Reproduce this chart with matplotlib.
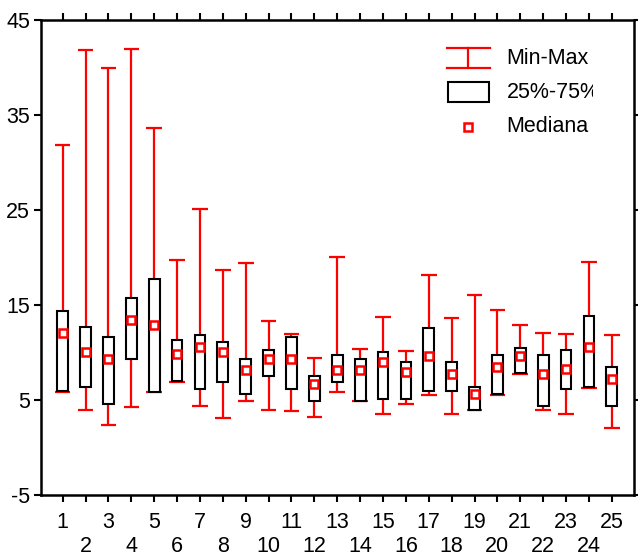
import matplotlib
matplotlib.use("Agg")
import matplotlib.pyplot as plt
from matplotlib.transforms import Bbox, TransformedBbox

plt.rcParams['font.family'] = ['Liberation Sans', 'DejaVu Sans']
plt.rcParams['axes.unicode_minus'] = False

# values
groups = list(range(1, 26))
mins = [5.8, 3.9, 2.4, 4.3, 5.8, 6.9, 4.4, 3.1, 4.9, 4.0,
        3.8, 3.2, 5.8, 4.9, 3.5, 4.6, 5.5, 3.5, 3.9, 5.5,
        7.7, 3.9, 3.5, 6.3, 2.1]
maxs = [31.8, 41.8, 39.9, 42.0, 33.6, 19.7, 25.1, 18.7, 19.4, 13.3,
        12.0, 9.4, 20.1, 10.4, 13.7, 10.2, 18.2, 13.6, 16.1, 14.5,
        12.9, 12.1, 12.0, 19.5, 11.8]
q1 = [5.9, 6.4, 4.6, 9.3, 5.8, 7.0, 6.2, 6.9, 5.6, 7.5,
      6.2, 4.9, 6.9, 4.9, 5.1, 5.1, 6.0, 6.0, 3.9, 5.6,
      7.8, 4.4, 6.2, 6.4, 4.4]
q3 = [14.4, 12.7, 11.6, 15.7, 17.7, 11.3, 11.8, 11.1, 9.3, 10.3,
      11.6, 7.5, 9.7, 9.3, 10.1, 9.0, 12.6, 9.0, 6.4, 9.7,
      10.5, 9.7, 10.3, 13.8, 8.5]
medians = [12.1, 10.1, 9.3, 13.4, 12.9, 9.8, 10.6, 10.1, 8.2, 9.3,
           9.3, 6.7, 8.2, 8.2, 9.0, 8.0, 9.6, 7.7, 5.6, 8.5,
           9.6, 7.7, 8.3, 10.6, 7.2]
yticks = [-5, 5, 15, 25, 35, 45]

fig = plt.figure(figsize=(6.38, 5.56), dpi=100)
ax = fig.add_axes([0.0635, 0.1097, 0.9302, 0.8543])

# min-max whiskers
ax.vlines(groups, mins, maxs, color='red', lw=1.6, zorder=2)
ax.hlines(mins, [g - 0.34 for g in groups], [g + 0.34 for g in groups],
          color='red', lw=1.6, zorder=2)
ax.hlines(maxs, [g - 0.34 for g in groups], [g + 0.34 for g in groups],
          color='red', lw=1.6, zorder=2)

# 25%-75% boxes
ax.bar(groups, [b - a for a, b in zip(q1, q3)], bottom=q1, width=0.47,
       facecolor='white', edgecolor='black', lw=1.5, zorder=3)

# medians
ax.plot(groups, medians, ls='none', marker='s', ms=6.3, mfc='white',
        mec='red', mew=1.8, zorder=4)

ax.set_xlim(0.03, 25.97)
ax.set_ylim(-5, 45)
ax.set_yticks(yticks)
ax.set_xticks(groups)
ax.set_xticklabels([str(g) if g % 2 else '\n' + str(g) for g in groups])
ax.tick_params(axis='both', direction='out', length=5, width=1.5,
               labelsize=15.5, top=True, right=True)
ax.tick_params(axis='x', pad=7)
ax.tick_params(axis='y', pad=2.5)
for s in ax.spines.values():
    s.set_linewidth(1.8)

# legend drawn by hand (the reference cuts the last "%")
tr = ax.transAxes
ax.plot([0.685, 0.757], [0.941, 0.941], color='red', lw=1.6, transform=tr)
ax.plot([0.685, 0.757], [0.899, 0.899], color='red', lw=1.6, transform=tr)
ax.plot([0.721, 0.721], [0.899, 0.941], color='red', lw=1.6, transform=tr)
ax.add_patch(plt.Rectangle((0.686, 0.827), 0.07, 0.042, transform=tr,
                           facecolor='white', edgecolor='black', lw=1.5))
ax.plot([0.721], [0.775], ls='none', marker='s', ms=6.3, mfc='white',
        mec='red', mew=1.8, transform=tr)
ax.text(0.785, 0.92, 'Min-Max', transform=tr, fontsize=15.5, va='center')
t = ax.text(0.785, 0.848, '25%-75%', transform=tr, fontsize=15.5, va='center')
t.set_clip_on(True)
t.set_clip_box(TransformedBbox(Bbox([[0, 0], [0.931, 1]]), tr))
ax.text(0.785, 0.775, 'Mediana', transform=tr, fontsize=15.5, va='center')

fig.savefig('out.png', dpi=100)
